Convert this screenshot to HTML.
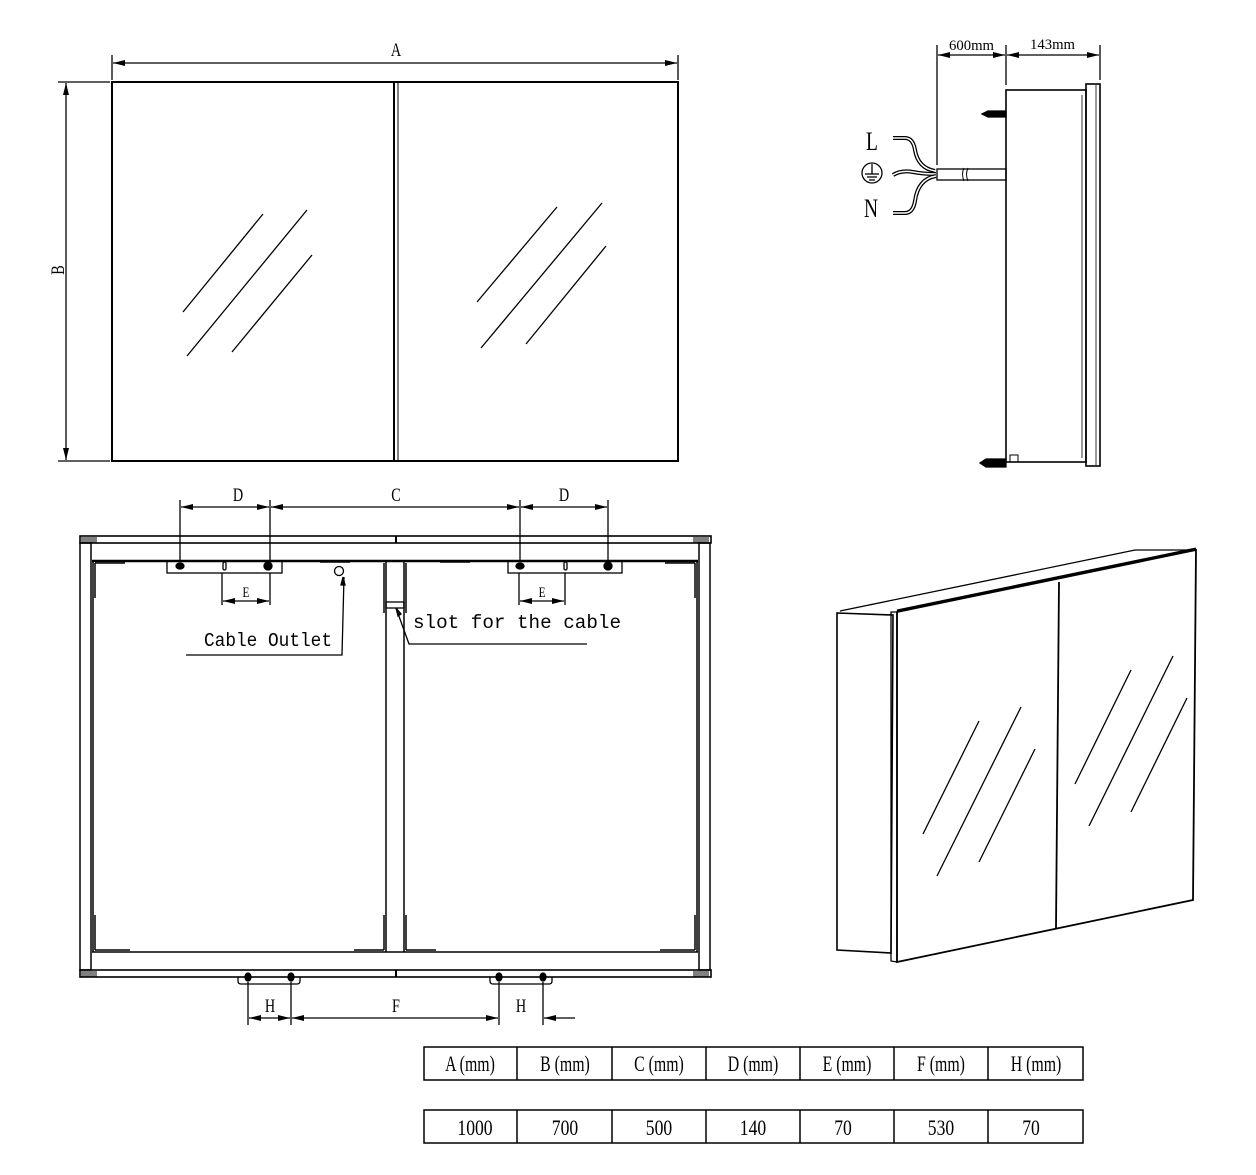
<!DOCTYPE html>
<html><head><meta charset="utf-8">
<style>
html,body{margin:0;padding:0;background:#fff;}
svg{display:block;}
text{font-family:"Liberation Serif","Noto Serif CJK SC",serif;fill:#000;}
</style></head>
<body>
<svg width="1256" height="1175" viewBox="0 0 1256 1175" xmlns="http://www.w3.org/2000/svg">
<defs>
<marker id="ar" viewBox="0 0 12 6" refX="12" refY="3" markerWidth="12" markerHeight="6" orient="auto-start-reverse" markerUnits="userSpaceOnUse">
<path d="M0,0 L12,3 L0,6 z" fill="#000"/>
</marker>
</defs>
<g stroke="#000" fill="none" stroke-width="1.3">
<!-- FRONT VIEW -->
<rect x="112" y="82" width="566" height="379" stroke-width="2"/>
<line x1="394" y1="82" x2="394" y2="461" stroke-width="2"/>
<line x1="398" y1="82" x2="398" y2="461" stroke-width="1"/>
<line x1="112" y1="55" x2="112" y2="80"/>
<line x1="678" y1="55" x2="678" y2="80"/>
<line x1="113" y1="63" x2="677" y2="63" marker-start="url(#ar)" marker-end="url(#ar)"/>
<line x1="58" y1="82" x2="110" y2="82"/>
<line x1="58" y1="461" x2="110" y2="461"/>
<line x1="66" y1="83" x2="66" y2="460" marker-start="url(#ar)" marker-end="url(#ar)"/>
<line x1="183" y1="312" x2="263" y2="214"/>
<line x1="187" y1="356" x2="307" y2="210"/>
<line x1="232" y1="352" x2="312" y2="255"/>
<line x1="477" y1="302" x2="557" y2="207"/>
<line x1="481" y1="348" x2="602" y2="203"/>
<line x1="526" y1="344" x2="606" y2="246"/>

<!-- SIDE VIEW -->
<rect x="1006" y="90" width="80" height="372" stroke-width="1.6"/>
<line x1="1082" y1="95" x2="1082" y2="458" stroke-width="0.8"/>
<rect x="1086" y="84" width="14" height="382" stroke-width="1.6"/>
<line x1="1096" y1="85" x2="1096" y2="465" stroke-width="0.8"/>
<line x1="937" y1="45" x2="937" y2="165"/>
<line x1="1006" y1="45" x2="1006" y2="85"/>
<line x1="1100" y1="45" x2="1100" y2="80"/>
<line x1="938" y1="55" x2="1005" y2="55" marker-start="url(#ar)" marker-end="url(#ar)"/>
<line x1="1007" y1="55" x2="1099" y2="55" marker-start="url(#ar)" marker-end="url(#ar)"/>
<rect x="937" y="169" width="69" height="11"/>
<path d="M964,168 q-3,6 0,13 M968,168 q-3,6 0,13" stroke="#000" stroke-width="1"/>
<path d="M893,138 h12 q8,0 10,12 q3,18 20,21" stroke-width="4"/>
<path d="M893,138 h12 q8,0 10,12 q3,18 20,21" stroke="#fff" stroke-width="1.5"/>
<path d="M893,175 q8,-5 20,-3 q10,2 23,2" stroke-width="4"/>
<path d="M893,175 q8,-5 20,-3 q10,2 23,2" stroke="#fff" stroke-width="1.5"/>
<path d="M893,213 h12 q8,0 10,-12 q3,-22 21,-25" stroke-width="4"/>
<path d="M893,213 h12 q8,0 10,-12 q3,-22 21,-25" stroke="#fff" stroke-width="1.5"/>
<circle cx="872" cy="173" r="10"/>
<line x1="872" y1="164" x2="872" y2="174"/>
<line x1="865" y1="174" x2="879" y2="174"/>
<line x1="867" y1="177" x2="877" y2="177"/>
<line x1="869" y1="180" x2="875" y2="180"/>
<path d="M982,114 l6,-3 h18 v6 h-18 z" fill="#000"/>
<path d="M980,463 l6,-4 h20 v8 h-20 z" fill="#000"/>
<rect x="1010" y="455" width="8" height="7" stroke-width="1"/>

<!-- BACK VIEW -->
<rect x="80" y="536" width="631" height="7" stroke-width="1.6"/>
<rect x="80" y="970" width="631" height="7" stroke-width="1.6"/>
<rect x="80" y="543" width="11" height="427" stroke-width="1.5"/>
<rect x="699" y="543" width="11" height="427" stroke-width="1.5"/>
<line x1="92" y1="561" x2="698" y2="561" stroke-width="2.5"/>
<line x1="92" y1="952" x2="698" y2="952" stroke-width="1.5"/>
<line x1="93" y1="561" x2="93" y2="952" stroke-width="1.5"/>
<line x1="697" y1="561" x2="697" y2="952" stroke-width="1.5"/>
<line x1="386" y1="561" x2="386" y2="952" stroke-width="1.5"/>
<line x1="404" y1="561" x2="404" y2="952" stroke-width="1.5"/>
<rect x="386" y="602" width="18" height="6"/>
<line x1="396" y1="536" x2="396" y2="543" stroke-width="2"/>
<line x1="396" y1="970" x2="396" y2="977" stroke-width="2"/>
<g stroke-width="1">
<path d="M82,537 v6 M84,537 v6 M86,537 v6 M88,537 v6 M90,537 v6 M92,537 v6 M94,537 v6 M96,537 v6 M702,537 v6 M704,537 v6 M706,537 v6 M708,537 v6 M694,537 v6 M696,537 v6 M698,537 v6 M700,537 v6"/>
<path d="M82,971 v6 M84,971 v6 M86,971 v6 M88,971 v6 M90,971 v6 M92,971 v6 M94,971 v6 M96,971 v6 M702,971 v6 M704,971 v6 M706,971 v6 M708,971 v6 M694,971 v6 M696,971 v6 M698,971 v6 M700,971 v6"/>
</g>
<path d="M95,563 v35 M95,563 h30 M95,950 v-35 M95,950 h35 M695,563 v35 M695,563 h-30 M695,950 v-35 M695,950 h-35 M384,563 v50 M384,950 v-35 M384,950 h-30 M406,563 v50 M406,950 v-35 M406,950 h30 M320,562 h30 M440,562 h30" stroke-width="1.5"/>
<rect x="167" y="561" width="115" height="12"/>
<rect x="508" y="561" width="114" height="12"/>
<ellipse cx="180" cy="566" rx="4" ry="3" fill="#000"/>
<ellipse cx="268" cy="566" rx="4" ry="4" fill="#000"/>
<ellipse cx="520" cy="566" rx="4" ry="3" fill="#000"/>
<ellipse cx="608" cy="566" rx="4" ry="4" fill="#000"/>
<rect x="223" y="562" width="3" height="8" rx="1.5"/>
<rect x="564" y="562" width="3" height="8" rx="1.5"/>
<circle cx="339" cy="571" r="4.5"/>
<path d="M238,977 v4 q0,3 3,3 h56 q3,0 3,-3 v-4"/>
<path d="M490,977 v4 q0,3 3,3 h56 q3,0 3,-3 v-4"/>
<ellipse cx="248" cy="977" rx="3" ry="4" fill="#000"/>
<ellipse cx="291" cy="977" rx="3" ry="4" fill="#000"/>
<ellipse cx="499" cy="977" rx="3" ry="4" fill="#000"/>
<ellipse cx="543" cy="977" rx="3" ry="4" fill="#000"/>
<line x1="180" y1="500" x2="180" y2="562"/>
<line x1="270" y1="500" x2="270" y2="562"/>
<line x1="520" y1="500" x2="520" y2="562"/>
<line x1="608" y1="500" x2="608" y2="562"/>
<line x1="181" y1="507" x2="269" y2="507" marker-start="url(#ar)" marker-end="url(#ar)"/>
<line x1="271" y1="507" x2="519" y2="507" marker-start="url(#ar)" marker-end="url(#ar)"/>
<line x1="521" y1="507" x2="607" y2="507" marker-start="url(#ar)" marker-end="url(#ar)"/>
<line x1="222" y1="573" x2="222" y2="605"/>
<line x1="270" y1="573" x2="270" y2="605"/>
<line x1="519" y1="573" x2="519" y2="605"/>
<line x1="565" y1="573" x2="565" y2="605"/>
<line x1="223" y1="601" x2="269" y2="601" marker-start="url(#ar)" marker-end="url(#ar)"/>
<line x1="520" y1="601" x2="564" y2="601" marker-start="url(#ar)" marker-end="url(#ar)"/>
<path d="M186,655 h156 l2,-78" />
<path d="M343,577 l-2,8 l4,0 z" fill="#000"/>
<path d="M396,608 l13,36 h178"/>
<path d="M396,608 l2,8 l3,-2 z" fill="#000"/>
<line x1="248" y1="982" x2="248" y2="1025"/>
<line x1="291" y1="982" x2="291" y2="1025"/>
<line x1="499" y1="982" x2="499" y2="1025"/>
<line x1="543" y1="982" x2="543" y2="1025"/>
<line x1="249" y1="1018" x2="290" y2="1018" marker-start="url(#ar)" marker-end="url(#ar)"/>
<line x1="292" y1="1018" x2="498" y2="1018" marker-start="url(#ar)" marker-end="url(#ar)"/>
<line x1="544" y1="1018" x2="575" y2="1018" marker-start="url(#ar)"/>

<!-- PERSPECTIVE -->
<path d="M837,613 L893,615 L891,953 L837,950 Z" stroke-width="1.6"/>
<path d="M840,611 L1135,550 L1196,550" stroke-width="1.3"/>
<path d="M891,612 L897,612 L897,962 L891,961 Z" stroke-width="1.3"/>
<path d="M897,612 L1196,550 L1193,900 L897,962 Z" stroke-width="1.8"/>
<line x1="897" y1="611" x2="1196" y2="549" stroke-width="3"/>
<line x1="1059" y1="582" x2="1056" y2="928" stroke-width="1.8"/>
<line x1="923" y1="834" x2="979" y2="721"/>
<line x1="937" y1="876" x2="1021" y2="707"/>
<line x1="979" y1="862" x2="1035" y2="749"/>
<line x1="1075" y1="784" x2="1131" y2="670"/>
<line x1="1089" y1="826" x2="1173" y2="656"/>
<line x1="1131" y1="812" x2="1187" y2="698"/>

<!-- TABLE -->
<rect x="424" y="1047" width="659" height="33" stroke-width="1.5"/>
<rect x="424" y="1110" width="659" height="33" stroke-width="1.5"/>
<path d="M517,1047 v33 M612,1047 v33 M706,1047 v33 M800,1047 v33 M894,1047 v33 M988,1047 v33 M517,1110 v33 M612,1110 v33 M706,1110 v33 M800,1110 v33 M894,1110 v33 M988,1110 v33" stroke-width="1.5"/>
</g>

<g font-size="19">
<text x="396" y="56" text-anchor="middle" transform="translate(396 0) scale(0.75 1) translate(-396 0)">A</text>
<text transform="translate(64 270) rotate(-90) scale(0.75 1)" text-anchor="middle">B</text>
<text x="238" y="501" text-anchor="middle" transform="translate(238 0) scale(0.75 1) translate(-238 0)">D</text>
<text x="396" y="501" text-anchor="middle" transform="translate(396 0) scale(0.75 1) translate(-396 0)">C</text>
<text x="564" y="501" text-anchor="middle" transform="translate(564 0) scale(0.75 1) translate(-564 0)">D</text>
<text x="270" y="1012" text-anchor="middle" transform="translate(270 0) scale(0.75 1) translate(-270 0)">H</text>
<text x="396" y="1012" text-anchor="middle" transform="translate(396 0) scale(0.75 1) translate(-396 0)">F</text>
<text x="521" y="1012" text-anchor="middle" transform="translate(521 0) scale(0.75 1) translate(-521 0)">H</text>
</g>
<g font-size="15">
<text x="246" y="597" text-anchor="middle" transform="translate(246 0) scale(0.75 1) translate(-246 0)">E</text>
<text x="542" y="597" text-anchor="middle" transform="translate(542 0) scale(0.75 1) translate(-542 0)">E</text>
</g>
<text x="204" y="646" font-size="19" style="font-family:'Liberation Mono',monospace" textLength="128" lengthAdjust="spacingAndGlyphs">Cable Outlet</text>
<text x="413" y="628" font-size="19" style="font-family:'Liberation Mono',monospace" textLength="208" lengthAdjust="spacingAndGlyphs">slot for the cable</text>
<text x="949" y="50" font-size="15" textLength="45" lengthAdjust="spacingAndGlyphs">600mm</text>
<text x="1030" y="49" font-size="15" textLength="45" lengthAdjust="spacingAndGlyphs">143mm</text>
<text x="866" y="150" font-size="26" transform="translate(866 0) scale(0.75 1) translate(-866 0)">L</text>
<text x="864" y="217" font-size="26" transform="translate(864 0) scale(0.75 1) translate(-864 0)">N</text>
<g font-size="22" text-anchor="middle">
<text x="470" y="1071" transform="translate(470 0) scale(0.72 1) translate(-470 0)">A (mm)</text>
<text x="565" y="1071" transform="translate(565 0) scale(0.72 1) translate(-565 0)">B (mm)</text>
<text x="659" y="1071" transform="translate(659 0) scale(0.72 1) translate(-659 0)">C (mm)</text>
<text x="753" y="1071" transform="translate(753 0) scale(0.72 1) translate(-753 0)">D (mm)</text>
<text x="847" y="1071" transform="translate(847 0) scale(0.72 1) translate(-847 0)">E (mm)</text>
<text x="941" y="1071" transform="translate(941 0) scale(0.72 1) translate(-941 0)">F (mm)</text>
<text x="1036" y="1071" transform="translate(1036 0) scale(0.72 1) translate(-1036 0)">H (mm)</text>
<text x="475" y="1135" transform="translate(475 0) scale(0.8 1) translate(-475 0)">1000</text>
<text x="565" y="1135" transform="translate(565 0) scale(0.8 1) translate(-565 0)">700</text>
<text x="659" y="1135" transform="translate(659 0) scale(0.8 1) translate(-659 0)">500</text>
<text x="753" y="1135" transform="translate(753 0) scale(0.8 1) translate(-753 0)">140</text>
<text x="843" y="1135" transform="translate(843 0) scale(0.8 1) translate(-843 0)">70</text>
<text x="941" y="1135" transform="translate(941 0) scale(0.8 1) translate(-941 0)">530</text>
<text x="1031" y="1135" transform="translate(1031 0) scale(0.8 1) translate(-1031 0)">70</text>
</g>
</svg>
</body></html>
